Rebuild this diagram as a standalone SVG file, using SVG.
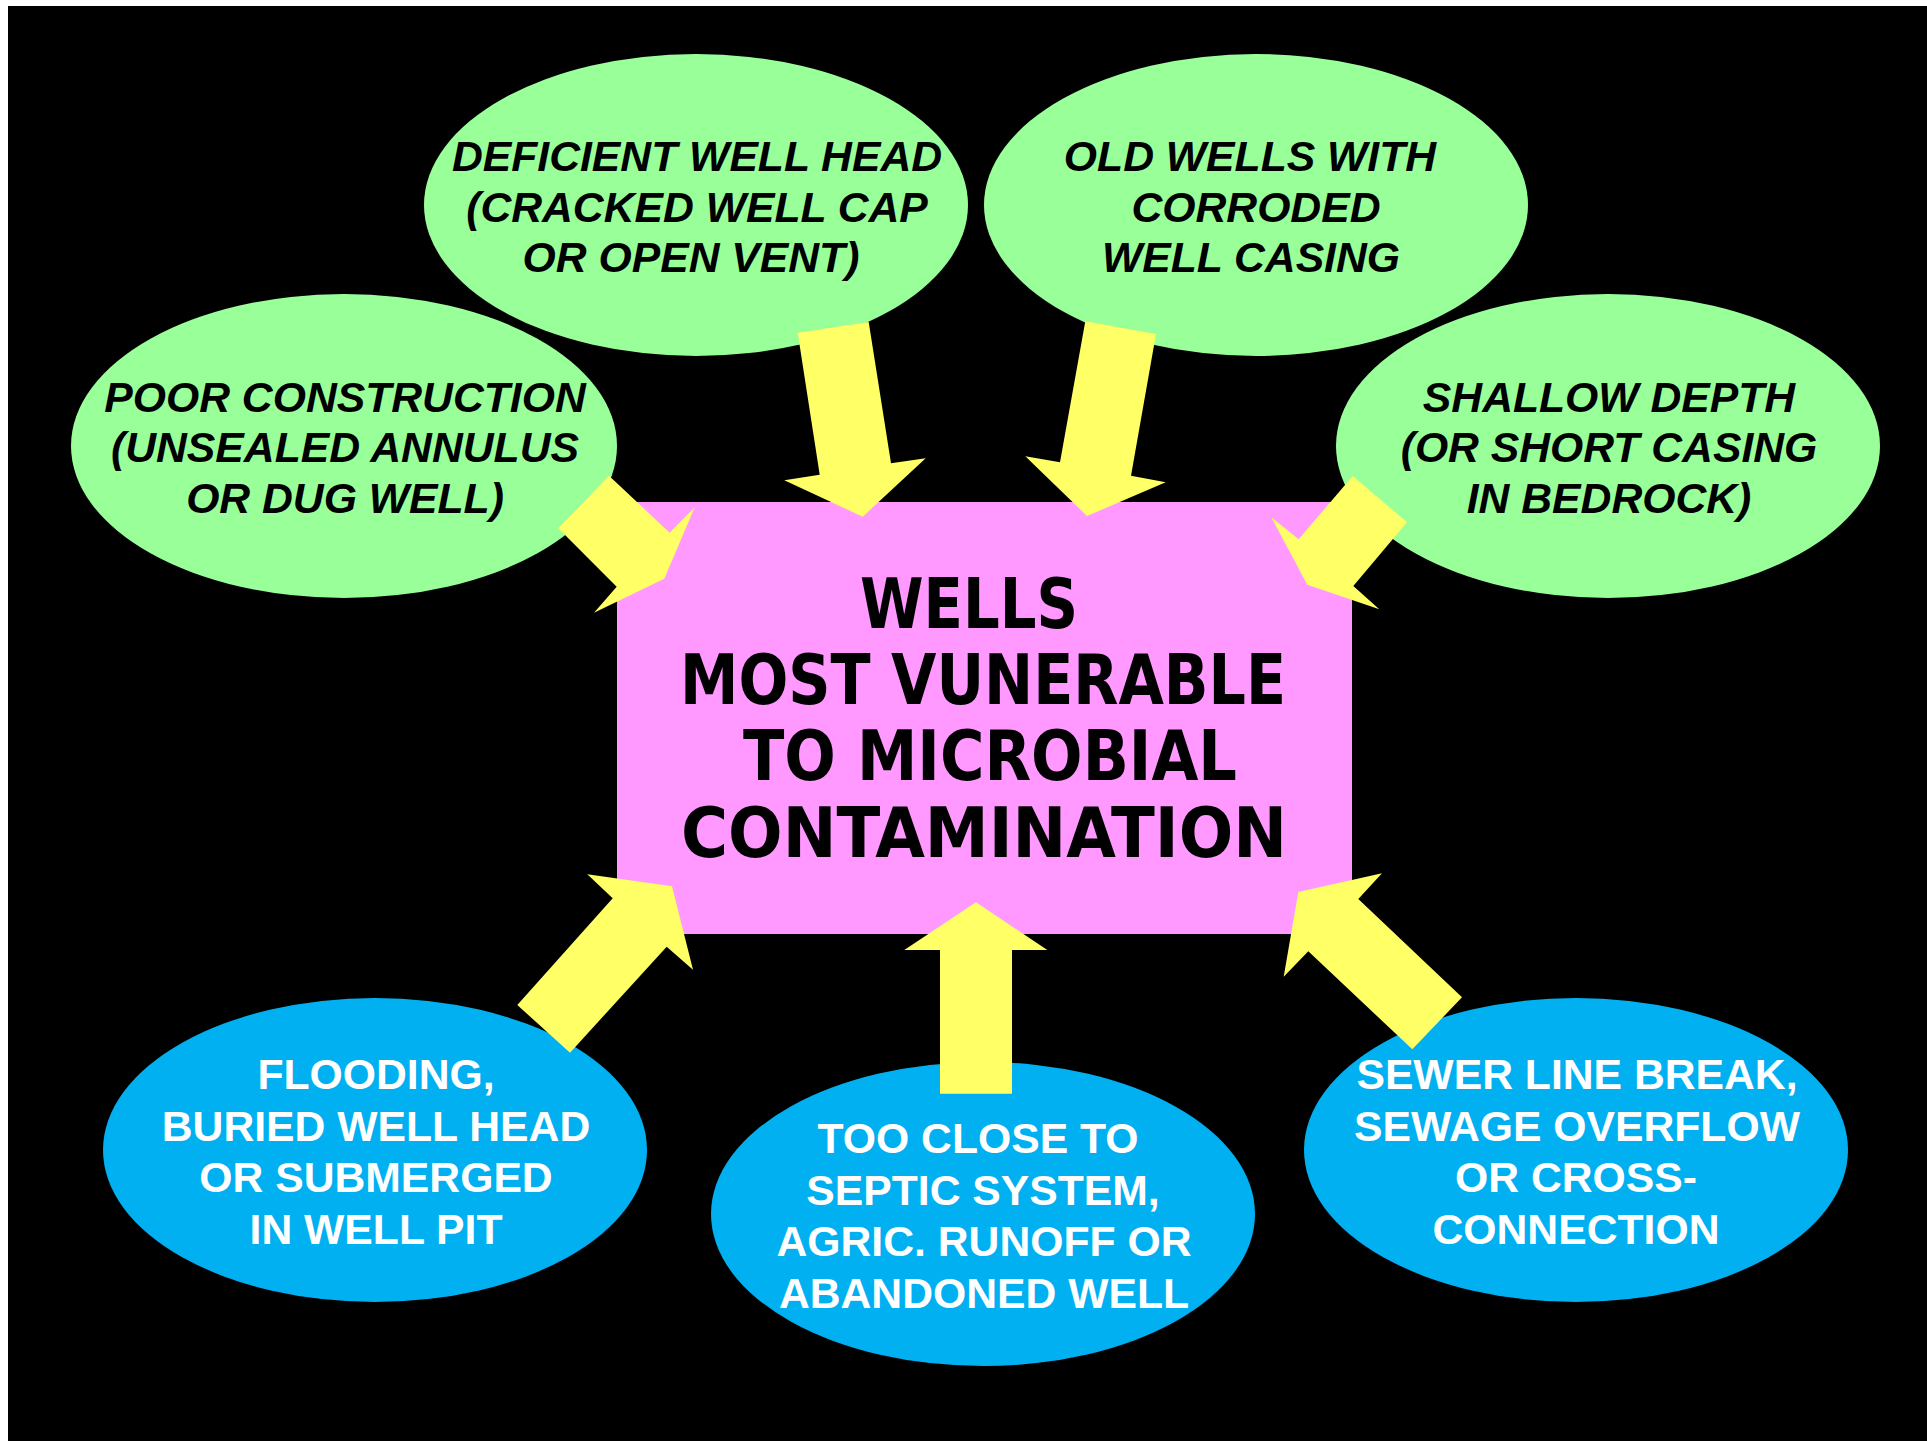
<svg xmlns="http://www.w3.org/2000/svg" width="1927" height="1441" viewBox="0 0 1927 1441">
<style>
.green{fill:#99FF99}
.blue{fill:#00B0F0}
.box{fill:#FF99FF}
.arrow{fill:#FFFF66}
.gt{font-family:"Liberation Sans",Arial,sans-serif;font-weight:bold;font-style:italic;font-size:42.7px;fill:#000;text-anchor:middle}
.bt{font-family:"Liberation Sans",Arial,sans-serif;font-weight:bold;font-size:42.7px;fill:#fff;text-anchor:middle}
.ct{font-family:"DejaVu Sans",sans-serif;font-weight:bold;font-size:69px;fill:#000}
</style>
<rect x="0" y="0" width="1927" height="1441" fill="#ffffff"/>
<rect x="8" y="6" width="1919" height="1435" fill="#000000"/>
<g id="node-deficient">
<ellipse class="green" cx="696" cy="205" rx="272" ry="151"/>
<text class="gt"><tspan x="697" y="171">DEFICIENT WELL HEAD</tspan><tspan x="697" y="222">(CRACKED WELL CAP</tspan><tspan x="691" y="272">OR OPEN VENT)</tspan></text>
</g>
<g id="node-oldwells">
<ellipse class="green" cx="1256" cy="205" rx="272" ry="151"/>
<text class="gt"><tspan x="1250" y="171">OLD WELLS WITH</tspan><tspan x="1256" y="222">CORRODED</tspan><tspan x="1251" y="272">WELL CASING</tspan></text>
</g>
<g id="node-poor">
<ellipse class="green" cx="344" cy="446" rx="273" ry="152"/>
<text class="gt"><tspan x="345" y="412">POOR CONSTRUCTION</tspan><tspan x="345" y="462">(UNSEALED ANNULUS</tspan><tspan x="345" y="513">OR DUG WELL)</tspan></text>
</g>
<g id="node-shallow">
<ellipse class="green" cx="1608" cy="446" rx="272" ry="152"/>
<text class="gt"><tspan x="1609" y="412">SHALLOW DEPTH</tspan><tspan x="1609" y="462">(OR SHORT CASING</tspan><tspan x="1609" y="513">IN BEDROCK)</tspan></text>
</g>
<g id="node-flooding">
<ellipse class="blue" cx="375" cy="1150" rx="272" ry="152"/>
<text class="bt"><tspan x="376" y="1089">FLOODING,</tspan><tspan x="376" y="1141">BURIED WELL HEAD</tspan><tspan x="376" y="1192">OR SUBMERGED</tspan><tspan x="376" y="1244">IN WELL PIT</tspan></text>
</g>
<g id="node-tooclose">
<ellipse class="blue" cx="983" cy="1214" rx="272" ry="152"/>
<text class="bt"><tspan x="978" y="1153">TOO CLOSE TO</tspan><tspan x="983" y="1205">SEPTIC SYSTEM,</tspan><tspan x="984" y="1256">AGRIC. RUNOFF OR</tspan><tspan x="984" y="1308">ABANDONED WELL</tspan></text>
</g>
<g id="node-sewer">
<ellipse class="blue" cx="1576" cy="1150" rx="272" ry="152"/>
<text class="bt"><tspan x="1577" y="1089">SEWER LINE BREAK,</tspan><tspan x="1577" y="1141">SEWAGE OVERFLOW</tspan><tspan x="1576" y="1192">OR CROSS-</tspan><tspan x="1576" y="1244">CONNECTION</tspan></text>
</g>
<g id="node-center">
<rect class="box" x="617" y="502" width="735" height="432"/>
<text class="ct" x="860" y="628" textLength="218" lengthAdjust="spacingAndGlyphs">WELLS</text>
<text class="ct" x="680" y="704" textLength="606" lengthAdjust="spacingAndGlyphs">MOST VUNERABLE</text>
<text class="ct" x="743" y="780" textLength="494" lengthAdjust="spacingAndGlyphs">TO MICROBIAL</text>
<text class="ct" x="681" y="857" textLength="606" lengthAdjust="spacingAndGlyphs">CONTAMINATION</text>
</g>
<g id="connectors">
<polygon class="arrow" points="797.7,332.7 868.7,322 891,463.3 925.7,458.3 862.7,516.7 784.3,480.3 819.7,474.7"/>
<polygon class="arrow" points="1085.3,321.3 1156,334 1131,475.7 1165.7,482.3 1087,516 1025.3,456.3 1060,462.3"/>
<polygon class="arrow" points="609,475.7 669.7,532.7 694.7,507.3 664.3,578.7 594,612.7 616.7,586.7 558.3,528.3"/>
<polygon class="arrow" points="1352.7,476 1407,522.3 1353.3,586 1379.3,609.3 1307.3,584.7 1271.3,517.3 1298.7,539.3"/>
<polygon class="arrow" points="587.3,874.3 672,886.3 693,969.7 666.7,946.7 570,1052.7 517.3,1005 612.7,898.3"/>
<polygon class="arrow" points="976,902.3 1047.3,950 1012,950 1012,1093.7 940,1093.7 940,950 904.3,950"/>
<polygon class="arrow" points="1382,873.3 1358.3,899 1462,997.3 1412.3,1049.3 1308.3,951.3 1283.7,976.7 1298.3,892"/>
</g>
</svg>
